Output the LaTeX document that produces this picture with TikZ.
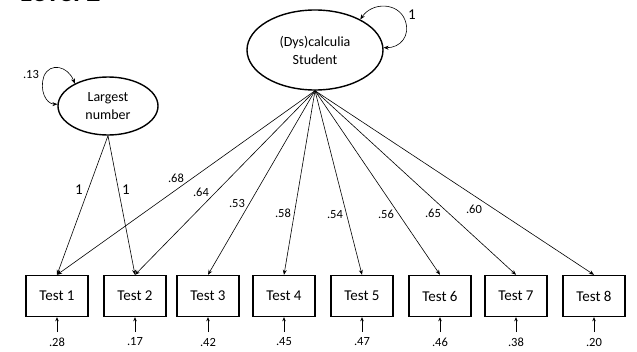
\documentclass[tikz,border=0pt]{standalone}
\usepackage{fontspec}
\setmainfont{Carlito}
\usetikzlibrary{shapes.geometric,arrows.meta}
\begin{document}
\begin{tikzpicture}[x=1pt,y=1pt,
  latent/.style={ellipse,draw,line width=1.4pt,inner sep=0pt,align=center,
    font=\fontsize{14}{18}\selectfont},
  observed/.style={rectangle,draw,line width=1.4pt,minimum width=62pt,
    minimum height=41pt,inner sep=0pt,font=\fontsize{15}{18}\selectfont},
  loading/.style={-{Stealth[length=5pt,width=4pt]},line width=0.6pt},
  varloop/.style={{Stealth[length=5pt,width=4pt]}-{Stealth[length=5pt,width=4pt]},line width=0.6pt},
  errarrow/.style={-{Stealth[length=4pt,width=3.5pt]},line width=0.6pt},
  coef/.style={inner sep=0pt,font=\fontsize{12.5}{14}\selectfont},
  bigcoef/.style={inner sep=0pt,font=\fontsize{15}{18}\selectfont}
]
\useasboundingbox (0,0) rectangle (637,-351);

% heading
\node[anchor=base west,inner sep=0pt,font=\fontsize{28}{32}\selectfont\bfseries] (hd) at (20,-1.5) {Level 2};

% latent variables
\node[latent,minimum width=136pt,minimum height=80pt] (stu) at (315,-50) {(Dys)calculia\\Student};
\node[latent,minimum width=100pt,minimum height=58pt] (lar) at (108,-106) {Largest\\number};

% observed tests
\foreach \i/\x in {1/57,2/135,3/208,4/284,5/362,6/440,7/516,8/594}{
  \node[observed] (t\i) at (\x,-296) {Test \i};
}

% variances of the latent variables
\draw[varloop] (stu.34) .. controls (372,-2) and (398,-2) .. (405,-20)
  .. controls (411,-36) and (400,-48) .. (stu.2);
\node[bigcoef] (vstu) at (412,-15) {1};
\draw[varloop] (lar.146) .. controls (68,-66) and (50,-62) .. (44,-76)
  .. controls (39,-90) and (46,-104) .. (lar.178);
\node[coef] (vlar) at (31,-74) {.13};

% loadings on Largest number
\draw[loading] (lar.south) -- (t1.north);
\draw[loading] (lar.south) -- (t2.north);
\node[bigcoef] (l1) at (79,-190) {1};
\node[bigcoef] (l2) at (126,-190) {1};

% loadings on (Dys)calculia Student
\foreach \i in {1,...,8}{
  \draw[loading] (stu.south) -- (t\i.north);
}
\node[coef] (c1) at (176,-178) {.68};
\node[coef] (c2) at (201,-192) {.64};
\node[coef] (c3) at (237,-203) {.53};
\node[coef] (c4) at (283,-213) {.58};
\node[coef] (c5) at (335,-215) {.54};
\node[coef] (c6) at (386,-214) {.56};
\node[coef] (c7) at (433,-213) {.65};
\node[coef] (c8) at (474,-209) {.60};

% residuals
\foreach \i/\x/\r in {1/57/.28,2/135/.17,3/208/.42,4/284/.45,5/362/.47,6/440/.46,7/516/.38,8/594/.20}{
  \coordinate (u\i) at (\x,-332);
  \node[coef] (e\i) at (\x,-342) {\r};
  \draw[errarrow] (u\i) -- (t\i.south);
}
\end{tikzpicture}
\end{document}
